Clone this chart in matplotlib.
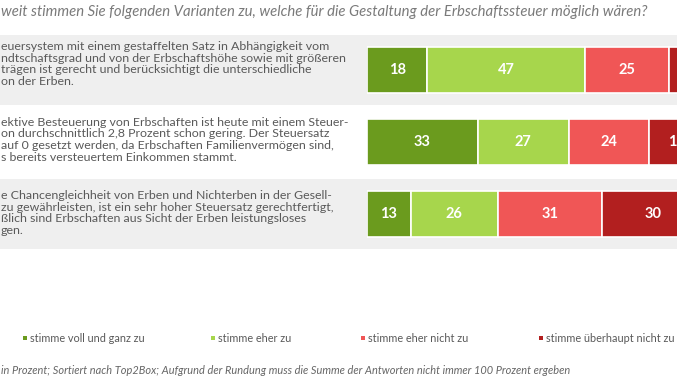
import matplotlib
matplotlib.use("Agg")
import matplotlib.pyplot as plt
import numpy as np

plt.rcParams['font.family'] = ['Lato', 'DejaVu Sans']

title = "weit stimmen Sie folgenden Varianten zu, welche für die Gestaltung der Erbschaftssteuer möglich wären?"
statements = [
    ["euersystem mit einem gestaffelten Satz in Abhängigkeit vom",
     "ndtschaftsgrad und von der Erbschaftshöhe sowie mit größeren",
     "trägen ist gerecht und berücksichtigt die unterschiedliche",
     "on der Erben."],
    ["ektive Besteuerung von Erbschaften ist heute mit einem Steuer-",
     "on durchschnittlich 2,8 Prozent schon gering. Der Steuersatz",
     "auf 0 gesetzt werden, da Erbschaften Familienvermögen sind,",
     "s bereits versteuertem Einkommen stammt."],
    ["e Chancengleichheit von Erben und Nichterben in der Gesell-",
     "zu gewährleisten, ist ein sehr hoher Steuersatz gerechtfertigt,",
     "ßlich sind Erbschaften aus Sicht der Erben leistungsloses",
     "gen."],
]
series_names = ["stimme voll und ganz zu", "stimme eher zu",
                "stimme eher nicht zu", "stimme überhaupt nicht zu"]
values = np.array([
    [18, 47, 25, 10],
    [33, 27, 24, 16],
    [13, 26, 31, 30],
])
colors = ["#6b9b1e", "#a7d64c", "#f05656", "#b21f1f"]
footnote = "in Prozent; Sortiert nach Top2Box; Aufgrund der Rundung muss die Summe der Antworten nicht immer 100 Prozent ergeben"

W, H = 677, 380
fig = plt.figure(figsize=(W / 100, H / 100), dpi=100)
fig.patch.set_facecolor("white")

# background / text layer in pixel coordinates
bg = fig.add_axes([0, 0, 1, 1])
bg.set_xlim(0, W)
bg.set_ylim(H, 0)
bg.axis("off")

row_c = 70.0
row_step = 71.75
band_h = 69
for i in range(len(statements)):
    c = row_c + row_step * i
    if i % 2 == 0:
        bg.axhspan(c - band_h / 2 - 0.5, c + band_h / 2 + 0.5, color="#efefef", zorder=0, lw=0)
    text_c = c - (6 if i == 0 else (2 if i == 1 else 0.5))
    for j, line in enumerate(statements[i]):
        y = text_c + (j - 1.5) * 11.7
        bg.text(1, y, line, fontsize=8.9, color="#595959", va="center", ha="left")

bg.text(1, 12, title, fontsize=10.7, color="#7a7a7a", style="italic", va="center", ha="left")

# legend
leg_x = [25, 213, 363, 541]
for k, name in enumerate(series_names):
    bg.scatter([leg_x[k]], [338], marker="s", s=12, color=colors[k], zorder=3, linewidths=0)
    bg.text(leg_x[k] + 5, 338, name, fontsize=7.8, color="#595959", va="center", ha="left")

bg.text(1, 370, footnote, fontsize=7.9, color="#666666", style="italic", va="center", ha="left")

# bars
bar_left_px = 367
px_per_unit = 3.36
ax = fig.add_axes([bar_left_px / W, 0, (W - bar_left_px) / W, 1])
ax.patch.set_alpha(0)
ax.set_xlim(0, (W - bar_left_px) / px_per_unit)
ax.set_ylim(H, 0)
ax.axis("off")

ypos = row_c + row_step * np.arange(len(statements))
left = np.zeros(len(statements))
for k in range(values.shape[1]):
    ax.barh(ypos, values[:, k], left=left, height=46, color=colors[k],
            edgecolor="white", linewidth=1.2)
    for i in range(len(statements)):
        ax.text(left[i] + values[i, k] / 2, ypos[i] + 0.5, str(values[i, k]),
                color="white", fontsize=10.5, fontweight="bold",
                ha="center", va="center", clip_on=True)
    left += values[:, k]

fig.savefig("out.png", dpi=100)
